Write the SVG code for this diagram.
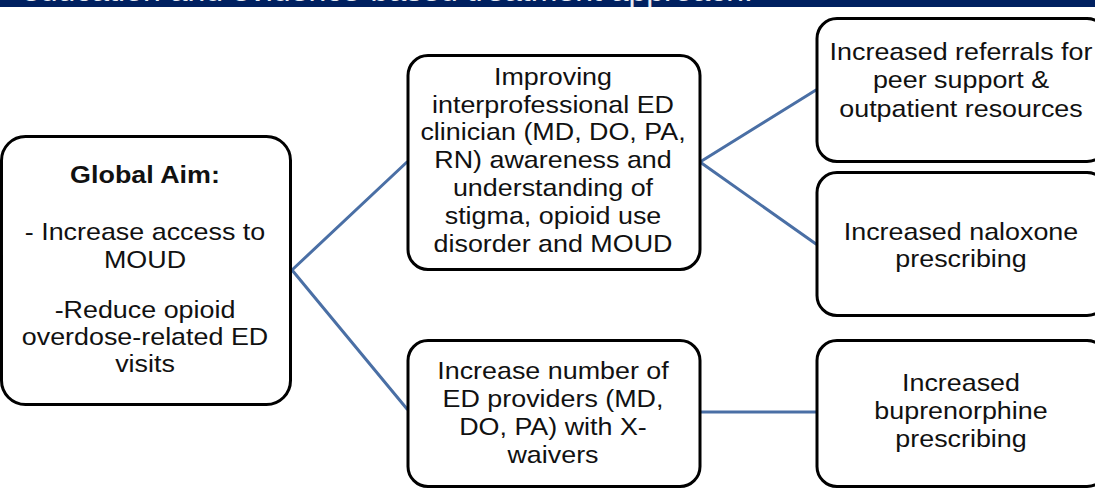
<svg xmlns="http://www.w3.org/2000/svg" width="1095" height="491" viewBox="0 0 1095 491">
<style>
.box{fill:#ffffff;stroke:#000000;stroke-width:3}
.t{font-family:"Liberation Sans",Arial,sans-serif;font-size:24px;fill:#111111;text-anchor:middle}
.b{font-weight:bold}
.conn{stroke:#4a6fa5;stroke-width:3;fill:none;stroke-linecap:round}
.banner{fill:#002060}
.bt{font-family:"Liberation Sans",Arial,sans-serif;font-size:30px;fill:#e8ecf4}
</style>
<rect width="1095" height="491" fill="#ffffff"/>
<g id="banner">
<rect class="banner" x="0" y="0" width="1095" height="7"/>
<text class="bt" x="22" y="1" textLength="731" lengthAdjust="spacingAndGlyphs">education and evidence-based treatment approach.</text>
</g>
<g id="connectors">
<line class="conn" x1="292" y1="270" x2="407" y2="162"/>
<line class="conn" x1="292" y1="270" x2="407" y2="409"/>
<line class="conn" x1="700" y1="162" x2="816" y2="90"/>
<line class="conn" x1="700" y1="162" x2="816" y2="244"/>
<line class="conn" x1="700" y1="412" x2="816" y2="412"/>
</g>
<g id="global-aim">
<rect class="box" x="1.5" y="136.5" width="289" height="268" rx="24"/>
<g transform="translate(145 0) scale(1.12 1)">
<text class="t b" x="0" y="183">Global Aim:</text>
<text class="t" x="0" y="240">- Increase access to</text>
<text class="t" x="0" y="268">MOUD</text>
<text class="t" x="0" y="318">-Reduce opioid</text>
<text class="t" x="0" y="345">overdose-related ED</text>
<text class="t" x="0" y="372">visits</text>
</g>
</g>
<g id="improving-awareness">
<rect class="box" x="408" y="55.5" width="292" height="214" rx="20"/>
<g transform="translate(553 0) scale(1.12 1)">
<text class="t" x="0" y="85">Improving</text>
<text class="t" x="0" y="113">interprofessional ED</text>
<text class="t" x="0" y="140">clinician (MD, DO, PA,</text>
<text class="t" x="0" y="168">RN) awareness and</text>
<text class="t" x="0" y="196">understanding of</text>
<text class="t" x="0" y="224">stigma, opioid use</text>
<text class="t" x="0" y="252">disorder and MOUD</text>
</g>
</g>
<g id="increase-xwaivers">
<rect class="box" x="408" y="340.5" width="292" height="146" rx="20"/>
<g transform="translate(553 0) scale(1.12 1)">
<text class="t" x="0" y="379">Increase number of</text>
<text class="t" x="0" y="407">ED providers (MD,</text>
<text class="t" x="0" y="435">DO, PA) with X-</text>
<text class="t" x="0" y="463">waivers</text>
</g>
</g>
<g id="referrals">
<rect class="box" x="817" y="18.5" width="290" height="143" rx="20"/>
<g transform="translate(961 0) scale(1.12 1)">
<text class="t" x="0" y="60">Increased referrals for</text>
<text class="t" x="0" y="88.5">peer support &amp;</text>
<text class="t" x="0" y="117">outpatient resources</text>
</g>
</g>
<g id="naloxone">
<rect class="box" x="817" y="172.5" width="290" height="143" rx="20"/>
<g transform="translate(961 0) scale(1.12 1)">
<text class="t" x="0" y="240">Increased naloxone</text>
<text class="t" x="0" y="267">prescribing</text>
</g>
</g>
<g id="buprenorphine">
<rect class="box" x="817" y="340.5" width="290" height="146" rx="20"/>
<g transform="translate(961 0) scale(1.12 1)">
<text class="t" x="0" y="391">Increased</text>
<text class="t" x="0" y="419">buprenorphine</text>
<text class="t" x="0" y="447">prescribing</text>
</g>
</g>
</svg>
